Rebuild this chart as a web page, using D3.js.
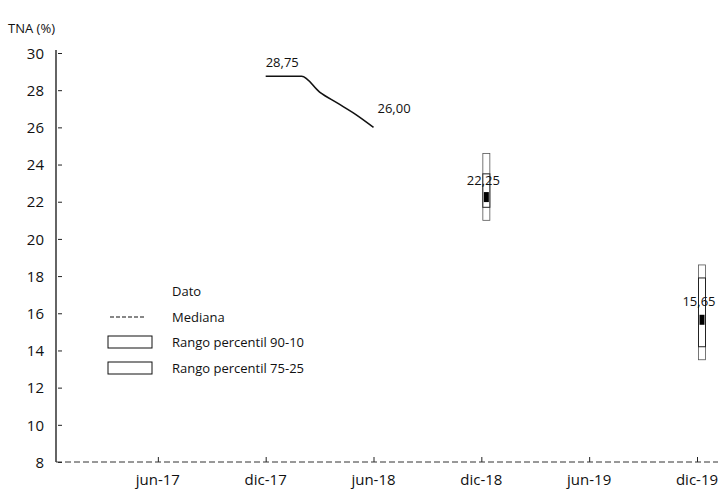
<!DOCTYPE html>
<html><head><meta charset="utf-8">
<script src="https://cdn.jsdelivr.net/npm/d3@7"></script>
<style>
html,body{margin:0;padding:0;background:#fff;}
svg text{font-family:"Open Sans","DejaVu Sans",sans-serif;fill:#111;}
</style></head>
<body>
<svg id="c" width="728" height="496"></svg>
<script>
// ---- data ----
const monthNames = ["ene","feb","mar","abr","may","jun","jul","ago","sep","oct","nov","dic"];
const years = ["17","18","19"];
const months = years.flatMap(y => monthNames.map(m => m + "-" + y));
const xTickLabels = ["jun-17","dic-17","jun-18","dic-18","jun-19","dic-19"];
const yTicks = [8,10,12,14,16,18,20,22,24,26,28,30];

const medianMonths = ["dic-17","ene-18","feb-18","mar-18","abr-18","may-18","jun-18"];
const medianValues = [28.75,28.75,28.75,27.9,27.3,26.7,26.0];

const boxMonths = ["dic-18","dic-19"];
const p90 = [24.6,18.6];
const p75 = [23.5,17.9];
const p50 = [22.25,15.65];
const p25 = [21.7,14.2];
const p10 = [21.0,13.5];

const valueLabels = [
  {month:"dic-17", value:28.75, text:"28,75"},
  {month:"jun-18", value:26.00, text:"26,00"},
  {month:"dic-18", value:22.25, text:"22,25"},
  {month:"dic-19", value:15.65, text:"15,65"}
];
const legendItems = ["Dato","Mediana","Rango percentil 90-10","Rango percentil 75-25"];

// ---- scales ----
const svg = d3.select("#c");
const x = d3.scalePoint().domain(months).range([68,697]);
const y = d3.scaleLinear().domain([8,30]).range([462,53]);
const axisX0 = 56, axisX1 = 718;
const boxShift = 5;

// y axis
const yAxis = svg.append("g").attr("transform",`translate(${axisX0},0)`)
  .call(d3.axisRight(y).tickValues(yTicks).tickSize(5).tickFormat(d3.format("d")));
yAxis.select(".domain").remove();
yAxis.selectAll(".tick line").attr("stroke","#222").attr("x1",2).attr("x2",6);
yAxis.selectAll(".tick text").attr("x",-12).attr("text-anchor","end")
  .style("font-size","15px").attr("dy","0.35em");
svg.append("line").attr("x1",axisX0).attr("x2",axisX0).attr("y1",50).attr("y2",462)
  .attr("stroke","#111").attr("stroke-width",1.3);

// x axis
const xAxis = svg.append("g").attr("transform","translate(0,462)")
  .call(d3.axisTop(x).tickValues(xTickLabels).tickSize(5).tickFormat(d=>""));
xAxis.select(".domain").remove();
xAxis.selectAll(".tick line").attr("stroke","#222");
svg.append("line").attr("x1",axisX0).attr("x2",axisX1).attr("y1",462).attr("y2",462)
  .attr("stroke","#333").attr("stroke-width",1).attr("stroke-dasharray","6,3");
svg.append("g").selectAll("text").data(xTickLabels).join("text")
  .attr("x",d=>x(d)).attr("y",485).attr("text-anchor","middle")
  .style("font-size","15px").text(d=>d);

// y title
svg.append("text").attr("x",8).attr("y",33).style("font-size","13px").text("TNA (%)");

// median line
const line = d3.line().x(d=>x(d[0])).y(d=>y(d[1])).curve(d3.curveMonotoneX);
svg.append("path").datum(medianMonths.map((m,i)=>[m,medianValues[i]]))
  .attr("d",line).attr("fill","none").attr("stroke","#111").attr("stroke-width",1.6);

// boxes
const bw = 7;
boxMonths.forEach((m,i)=>{
  const cx = x(m) + boxShift;
  svg.append("rect").attr("x",cx-bw/2).attr("width",bw)
    .attr("y",y(p90[i])).attr("height",y(p10[i])-y(p90[i]))
    .attr("fill","none").attr("stroke","#555").attr("stroke-width",0.8);
  svg.append("rect").attr("x",cx-bw/2).attr("width",bw)
    .attr("y",y(p75[i])).attr("height",y(p25[i])-y(p75[i]))
    .attr("fill","#fff").attr("stroke","#222").attr("stroke-width",1);
  svg.append("rect").attr("x",cx-2.5).attr("width",5)
    .attr("y",y(p50[i])-5).attr("height",10).attr("fill","#000");
});

// value labels
const labelOffsets = {"28,75":[0,-9,"start"],"26,00":[4,-14,"start"],"22,25":[2,-12,"middle"],"15,65":[2,-14,"middle"]};
svg.append("g").selectAll("text").data(valueLabels).join("text")
  .attr("x",d=>x(d.month)+labelOffsets[d.text][0])
  .attr("y",d=>y(d.value)+labelOffsets[d.text][1])
  .attr("text-anchor",d=>labelOffsets[d.text][2])
  .style("font-size","13px").text(d=>d.text);

// legend
const lg = svg.append("g");
const ly = [291,317,342,368];
lg.selectAll("text").data(legendItems).join("text")
  .attr("x",172).attr("y",(d,i)=>ly[i]).attr("dy","0.35em")
  .style("font-size","13px").text(d=>d);
lg.append("line").attr("x1",110).attr("x2",146).attr("y1",ly[1]).attr("y2",ly[1])
  .attr("stroke","#111").attr("stroke-width",1.2).attr("stroke-dasharray","4,2");
lg.append("rect").attr("x",108).attr("y",ly[2]-6).attr("width",44).attr("height",12)
  .attr("fill","none").attr("stroke","#111").attr("stroke-width",1);
lg.append("rect").attr("x",108).attr("y",ly[3]-6).attr("width",44).attr("height",12)
  .attr("fill","none").attr("stroke","#111").attr("stroke-width",1);
</script>
</body></html>
